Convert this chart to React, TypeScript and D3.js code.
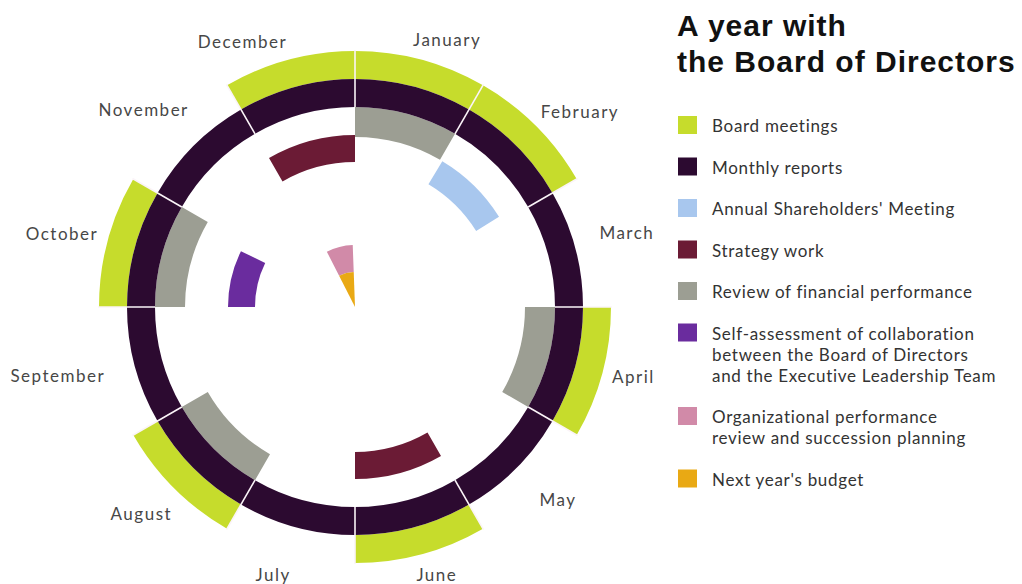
import React, { useEffect, useRef } from "react";
import * as d3 from "d3";

const months = ["January", "February", "March", "April", "May", "June", "July", "August", "September", "October", "November", "December"];

// spans in month units [start, end] (0 = 1 January, 12 = end of December)
const boardMeetings: [number, number][] = [[11, 12], [0, 1], [1, 2], [3, 4], [5, 6], [7, 8], [9, 10]];
const monthlyReports: [number, number][] = months.map((_, i) => [i, i + 1]);
const financialReview: [number, number][] = [[0, 1], [3, 4], [7, 8], [9, 10]];
const shareholdersMeeting: [number, number][] = [[1.03, 1.93]];
const strategyWork: [number, number][] = [[11, 12], [5, 6]];
const selfAssessment: [number, number][] = [[9, 9.87]];
const orgReview: [number, number][] = [[11.1, 11.93]];
const budget: [number, number][] = [[11.1, 11.93]];

const legendLabels = [
  ["Board meetings"],
  ["Monthly reports"],
  ["Annual Shareholders' Meeting"],
  ["Strategy work"],
  ["Review of financial performance"],
  ["Self-assessment of collaboration", "between the Board of Directors", "and the Executive Leadership Team"],
  ["Organizational performance", "review and succession planning"],
  ["Next year's budget"],
];
const legendColors = ["#c6dc2c", "#2c0a30", "#a8c7ee", "#6b1b35", "#9c9e93", "#6a2c9e", "#d18aa8", "#e9a914"];

export default function App() {
  const ref = useRef<SVGSVGElement>(null);
  useEffect(() => {
    const svg = d3.select(ref.current);
    svg.selectAll("*").remove();
    const cx = 355, cy = 307;
    const angle = d3.scaleLinear().domain([0, 12]).range([0, 2 * Math.PI]);
    const g = svg.append("g").attr("transform", `translate(${cx},${cy})`);

    const layers: { data: [number, number][]; r0: number; r1: number; color: string }[] = [
      { data: boardMeetings, r0: 228, r1: 256, color: legendColors[0] },
      { data: financialReview, r0: 170, r1: 200, color: legendColors[4] },
      { data: monthlyReports, r0: 200, r1: 228, color: legendColors[1] },
      { data: shareholdersMeeting, r0: 143, r1: 170, color: legendColors[2] },
      { data: strategyWork, r0: 145, r1: 172, color: legendColors[3] },
      { data: selfAssessment, r0: 100, r1: 127, color: legendColors[5] },
      { data: orgReview, r0: 35, r1: 62, color: legendColors[6] },
      { data: budget, r0: 0, r1: 35, color: legendColors[7] },
    ];
    layers.forEach((L) => {
      const arc = d3.arc<[number, number]>()
        .innerRadius(L.r0)
        .outerRadius(L.r1)
        .startAngle((d) => angle(d[0]))
        .endAngle((d) => angle(d[1]));
      g.append("g").selectAll("path").data(L.data).join("path").attr("d", arc as any).attr("fill", L.color);
    });

    // month separators
    g.append("g").selectAll("line").data(d3.range(12)).join("line")
      .attr("x1", (i) => 200 * Math.sin(angle(i)))
      .attr("y1", (i) => -200 * Math.cos(angle(i)))
      .attr("x2", (i) => 257 * Math.sin(angle(i)))
      .attr("y2", (i) => -257 * Math.cos(angle(i)))
      .attr("stroke", "#fbf4f8").attr("stroke-width", 1.6);

    // month labels: hand-placed around the ring (angle nudge in degrees, radius of label centre)
    const nudge = [4, 4, -0.4, -1, -1.5, -2, 2, 1, 2, -1, -2, -8];
    const labelR = [283, 298, 282, 287, 280, 280, 280, 297, 305, 302, 289, 288];
    g.append("g").selectAll("text").data(months).join("text")
      .text((d) => d)
      .attr("font-family", "Lato, 'Open Sans', sans-serif")
      .attr("font-size", 17)
      .attr("letter-spacing", 1.5)
      .attr("fill", "#474747")
      .attr("text-anchor", "middle")
      .attr("dominant-baseline", "central")
      .attr("x", (d, i) => labelR[i] * Math.sin(angle(i + 0.5) + (nudge[i] * Math.PI) / 180))
      .attr("y", (d, i) => -labelR[i] * Math.cos(angle(i + 0.5) + (nudge[i] * Math.PI) / 180));

    // title
    const title = svg.append("text")
      .attr("font-family", "'Liberation Sans', Arial, sans-serif")
      .attr("font-weight", "bold").attr("font-size", 30).attr("letter-spacing", 1.0).attr("fill", "#111");
    title.append("tspan").attr("x", 677).attr("y", 36).text("A year with");
    title.append("tspan").attr("x", 677).attr("y", 72).text("the Board of Directors");

    // legend
    const lg = svg.append("g");
    let y = 125;
    legendLabels.forEach((lines, i) => {
      lg.append("rect").attr("x", 678).attr("y", y - 9).attr("width", 19).attr("height", 18).attr("fill", legendColors[i]);
      const t = lg.append("text").attr("font-family", "Lato, 'Open Sans', sans-serif").attr("font-size", 17)
        .attr("letter-spacing", 0.7)
        .attr("fill", "#333").attr("dominant-baseline", "central");
      lines.forEach((ln, j) => t.append("tspan").attr("x", 712).attr("y", y + j * 21).text(ln));
      y += lines.length * 21 + 20.5;
    });
  }, []);
  return (
    <svg ref={ref} width={1022} height={584} style={{ position: "absolute", left: 0, top: 0, background: "#fff" }} />
  );
}
